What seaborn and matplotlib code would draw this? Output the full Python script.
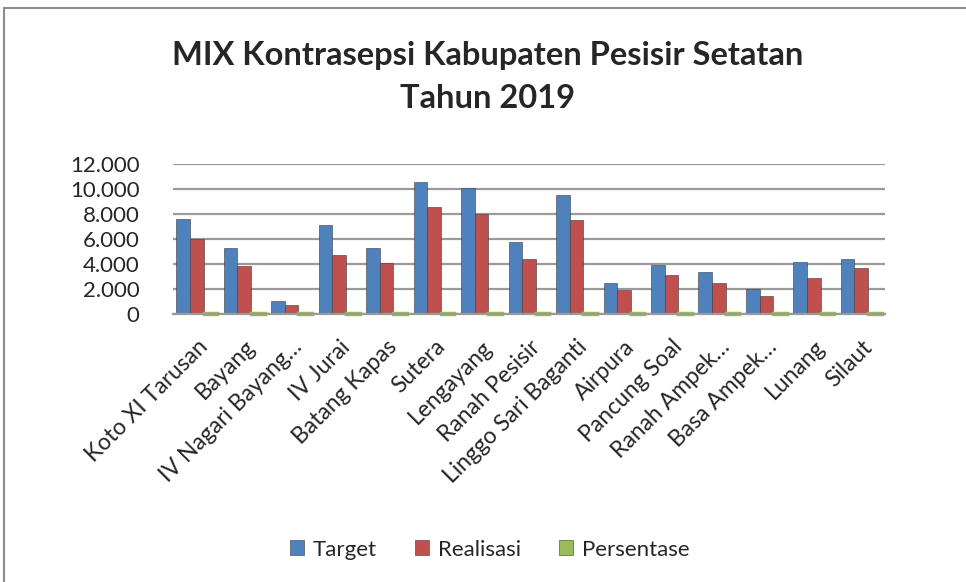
import pandas as pd
import numpy as np
import matplotlib
matplotlib.use("Agg")
import matplotlib.pyplot as plt
import matplotlib.ticker as mticker
from matplotlib.patches import Rectangle
import seaborn as sns

# data
kecamatan = ["Koto XI Tarusan", "Bayang", "IV Nagari Bayang…", "IV Jurai",
             "Batang Kapas", "Sutera", "Lengayang", "Ranah Pesisir",
             "Linggo Sari Baganti", "Airpura", "Pancung Soal", "Ranah Ampek…",
             "Basa Ampek…", "Lunang", "Silaut"]
target = [7600, 5300, 1050, 7100, 5250, 10600, 10050, 5750, 9500, 2480,
          3920, 3370, 1990, 4190, 4400]
realisasi = [6000, 3850, 750, 4700, 4100, 8600, 8000, 4400, 7500, 1930,
             3100, 2480, 1460, 2870, 3720]
persentase = [79, 73, 71, 66, 78, 81, 80, 77, 79, 78, 79, 74, 73, 68, 84]
series = ["Target", "Realisasi", "Persentase"]
colors = ["#4F81BD", "#C0504D", "#9BBB59"]

df = pd.DataFrame({"Kecamatan": kecamatan, "Target": target,
                   "Realisasi": realisasi, "Persentase": persentase})
long_df = df.melt(id_vars="Kecamatan", var_name="Seri", value_name="Jumlah")

sns.set_theme(style="white")
plt.rcParams["font.family"] = ["Lato", "DejaVu Sans"]

fig = plt.figure(figsize=(9.66, 5.82), dpi=100)
ax = fig.add_axes([173 / 966, 1 - 314 / 582, 712 / 966, 150 / 582])

sns.barplot(data=long_df, x="Kecamatan", y="Jumlah", hue="Seri",
            hue_order=series, palette=colors, width=0.86, saturation=1,
            edgecolor="#3b3b3b", linewidth=0.4, ax=ax)

# the percentage bars are tiny, give them a visible green edge like the flat tiles
for bar in ax.containers[2]:
    bar.set_edgecolor("#9BBB59")
    bar.set_linewidth(2.5)
    bar.set_clip_on(False)

ax.set_ylim(0, 12000)
ax.set_xlim(-0.5, len(kecamatan) - 0.5)
ax.set_yticks(range(0, 12001, 2000))
ax.yaxis.set_major_formatter(
    mticker.FuncFormatter(lambda v, p: f"{int(v):,}".replace(",", ".")))
ax.yaxis.grid(True, color="#9a9a9a", linewidth=1.6)
ax.set_axisbelow(True)
for s in ["top", "right", "left"]:
    ax.spines[s].set_visible(False)
ax.spines["bottom"].set_color("#9a9a9a")
ax.spines["bottom"].set_linewidth(1.6)
ax.tick_params(axis="y", labelsize=16, pad=24, length=0)
ax.tick_params(axis="x", labelsize=16.5, length=0, pad=16)
ax.set_xticks(range(len(kecamatan)))
ax.set_xticklabels(kecamatan, rotation=45, ha="right", rotation_mode="anchor")
ax.set_xlabel("")
ax.set_ylabel("")

ax.legend(loc="upper center", bbox_to_anchor=(0.445, -1.37), ncol=3,
          frameon=False, fontsize=16, handlelength=0.65, handleheight=0.65,
          columnspacing=1.7, handletextpad=0.4)

fig.text(0.505, 1 - 55 / 582, "MIX Kontrasepsi Kabupaten Pesisir Setatan",
         ha="center", va="center", fontsize=23.5, fontweight="bold")
fig.text(0.505, 1 - 98 / 582, "Tahun 2019",
         ha="center", va="center", fontsize=23.5, fontweight="bold")

# chart frame
fig.patches.append(Rectangle((4 / 966, -0.05), 1.1, 1 - 8 / 582 + 0.05,
                             transform=fig.transFigure, fill=False,
                             edgecolor="#8c8c8c", linewidth=1.5))

fig.savefig("out.png", dpi=100)
